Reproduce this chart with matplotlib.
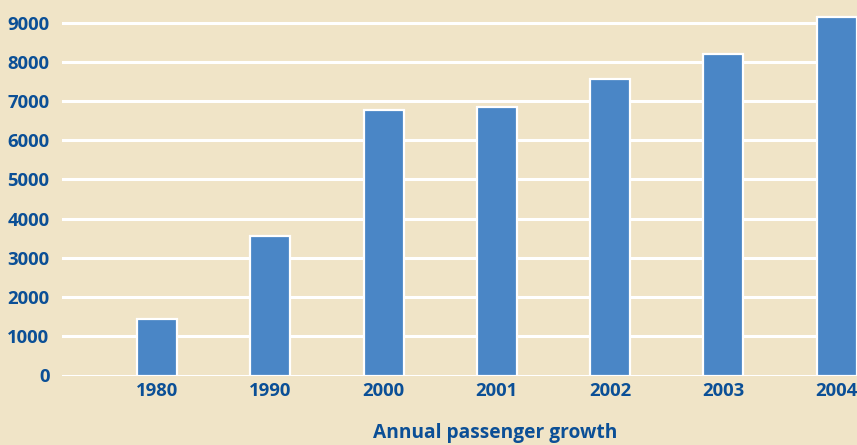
import matplotlib
matplotlib.use("Agg")
import matplotlib.pyplot as plt

years = ["1980", "1990", "2000", "2001", "2002", "2003", "2004"]
passengers = [1430, 3560, 6760, 6850, 7560, 8200, 9140]
yticks = [0, 1000, 2000, 3000, 4000, 5000, 6000, 7000, 8000, 9000]
title = "Annual passenger growth"

bg = "#F0E4C7"
bar_color = "#4A86C6"
text_color = "#0B4F96"

plt.rcParams['font.family'] = ['Open Sans', 'DejaVu Sans']

fig = plt.figure(figsize=(8.57, 4.45), dpi=100)
fig.patch.set_facecolor(bg)
ax = fig.add_axes([62/857, 1 - 375.5/445, (857-62)/857, 375.5/445])
ax.set_facecolor(bg)

x = list(range(len(years)))
ax.bar(x, passengers, width=0.355, color=bar_color, edgecolor="white",
       linewidth=1.6, zorder=3)

ax.set_xlim(-0.84, 6.18)
ax.set_ylim(0, 9575)
ax.set_yticks(yticks)
ax.set_yticklabels([str(v) for v in yticks])
ax.set_xticks(x)
ax.set_xticklabels(years)
ax.yaxis.grid(True, color="white", linewidth=2.2, zorder=1)
ax.set_axisbelow(True)
for s in ax.spines.values():
    s.set_visible(False)
ax.tick_params(axis="both", length=0, colors=text_color, labelsize=13.3)
ax.tick_params(axis="y", pad=9)
ax.tick_params(axis="x", pad=5)
for lbl in ax.get_xticklabels() + ax.get_yticklabels():
    lbl.set_fontweight("bold")
    lbl.set_color(text_color)

fig.text(495/857, 1 - 433/445, title, ha="center", va="center",
         fontsize=13.8, fontweight="bold", color=text_color)

fig.savefig("out.png", dpi=100, facecolor=bg)
